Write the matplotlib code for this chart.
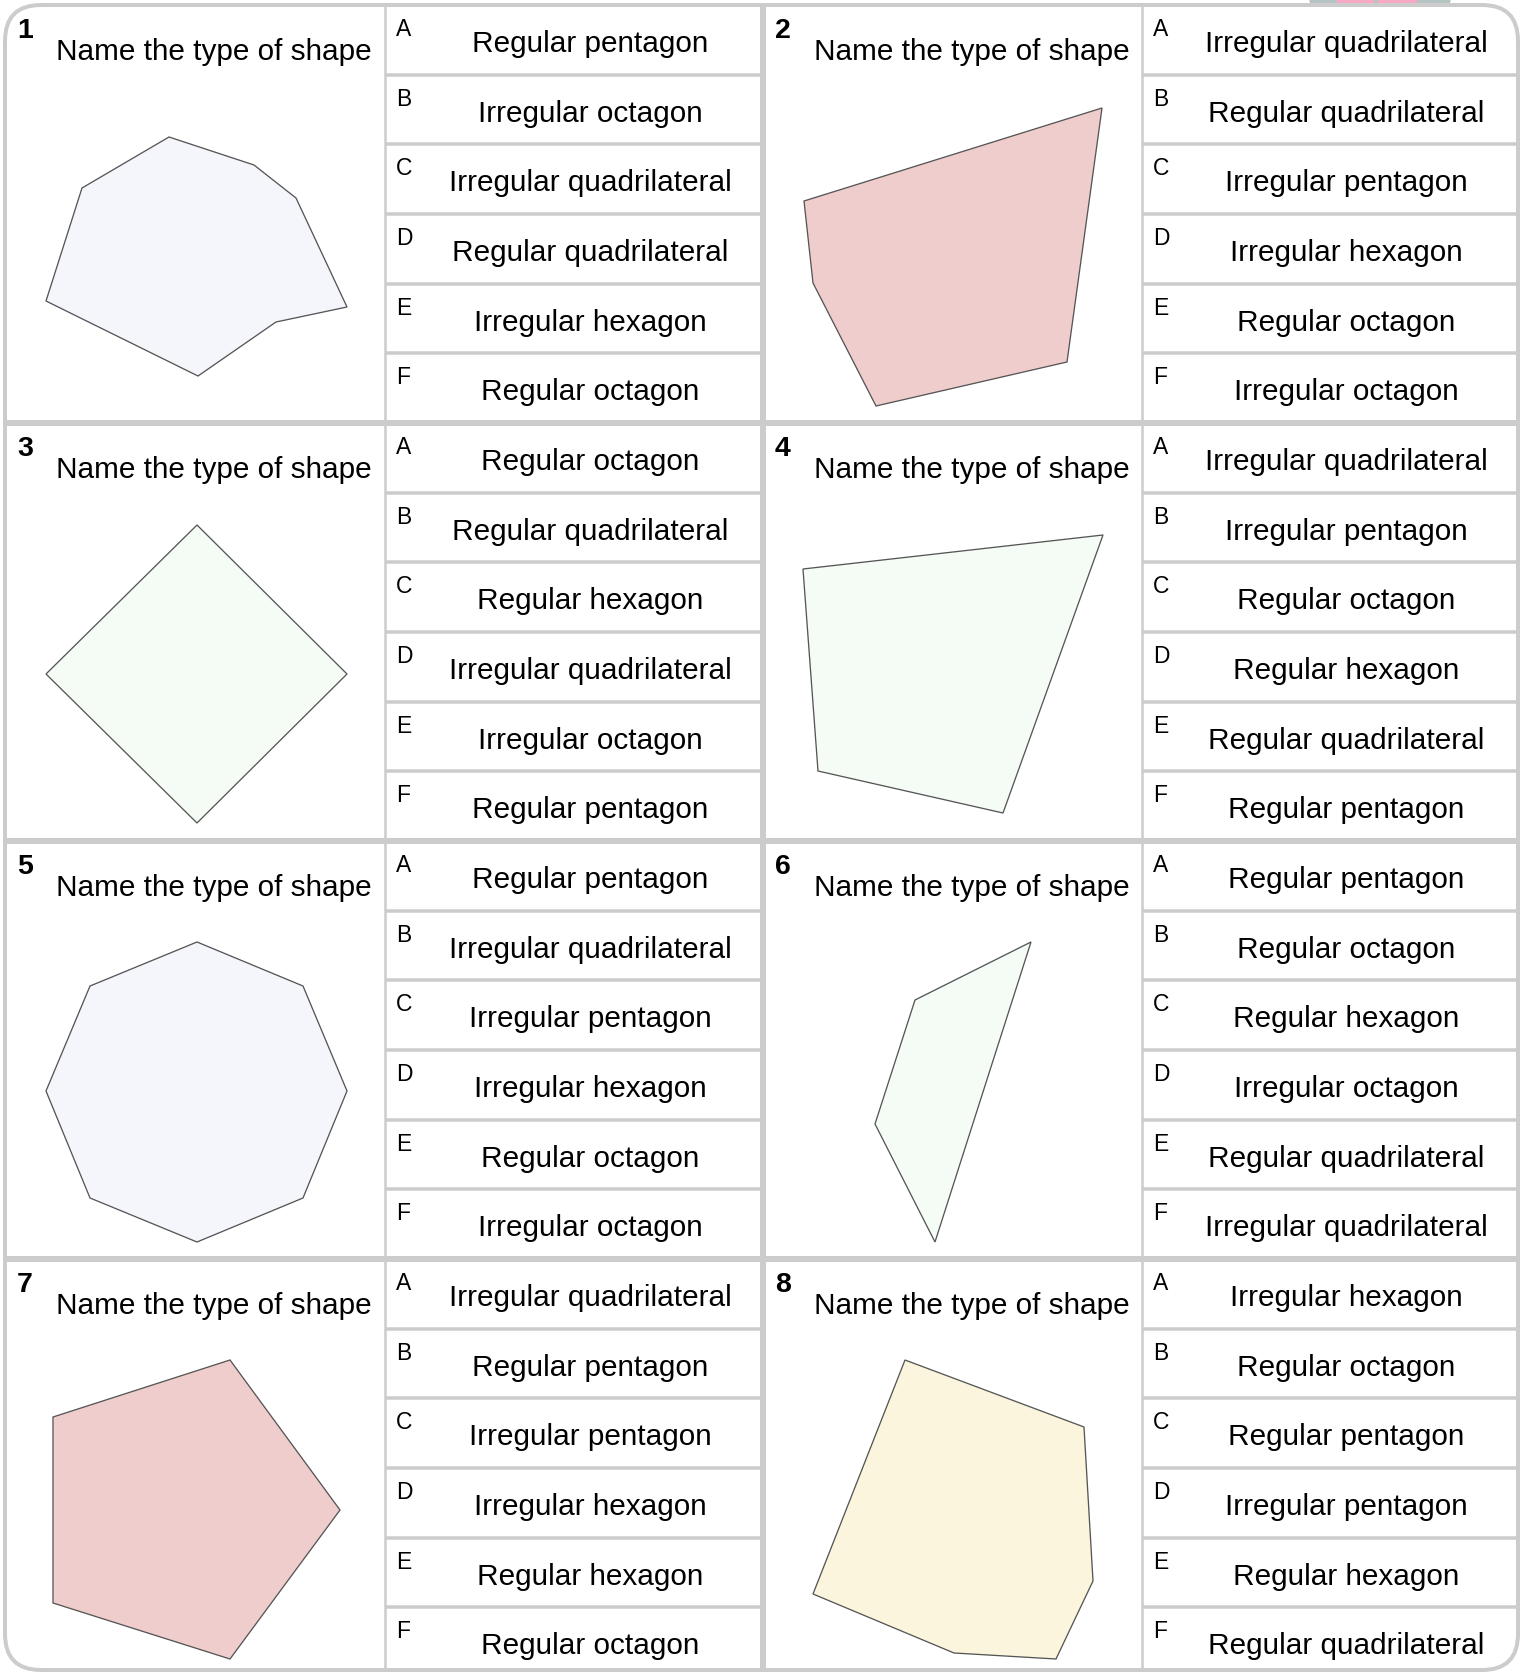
import matplotlib
matplotlib.use("Agg")
import matplotlib.pyplot as plt
from matplotlib.patches import Polygon, FancyBboxPatch, Ellipse, Rectangle

plt.rcParams["font.family"] = ["Liberation Sans", "DejaVu Sans"]

W, H = 1529, 1674
DPI = 100

# ---- worksheet content ----
PROMPT = "Name the type of shape"
LETTERS = ["A", "B", "C", "D", "E", "F"]

options_q1 = ["Regular pentagon", "Irregular octagon", "Irregular quadrilateral",
              "Regular quadrilateral", "Irregular hexagon", "Regular octagon"]
options_q2 = ["Irregular quadrilateral", "Regular quadrilateral", "Irregular pentagon",
              "Irregular hexagon", "Regular octagon", "Irregular octagon"]
options_q3 = ["Regular octagon", "Regular quadrilateral", "Regular hexagon",
              "Irregular quadrilateral", "Irregular octagon", "Regular pentagon"]
options_q4 = ["Irregular quadrilateral", "Irregular pentagon", "Regular octagon",
              "Regular hexagon", "Regular quadrilateral", "Regular pentagon"]
options_q5 = ["Regular pentagon", "Irregular quadrilateral", "Irregular pentagon",
              "Irregular hexagon", "Regular octagon", "Irregular octagon"]
options_q6 = ["Regular pentagon", "Regular octagon", "Regular hexagon",
              "Irregular octagon", "Regular quadrilateral", "Irregular quadrilateral"]
options_q7 = ["Irregular quadrilateral", "Regular pentagon", "Irregular pentagon",
              "Irregular hexagon", "Regular hexagon", "Regular octagon"]
options_q8 = ["Irregular hexagon", "Regular octagon", "Regular pentagon",
              "Irregular pentagon", "Regular hexagon", "Regular quadrilateral"]
OPTIONS = [options_q1, options_q2, options_q3, options_q4,
           options_q5, options_q6, options_q7, options_q8]

# shape vertices (page pixels, y down)
shape_q1 = [(169, 138), (254, 166), (296, 199), (347, 308), (276, 323),
            (198, 377), (46, 302), (82, 189)]
shape_q2 = [(804, 202), (1102, 109), (1067, 363), (876, 407), (813, 284)]
shape_q3 = [(197, 526), (347, 675), (197, 824), (46, 675)]
shape_q4 = [(803, 570), (1103, 536), (1003, 814), (818, 772)]
shape_q5 = [(197, 943), (303, 987), (347, 1092), (303, 1199), (197, 1243),
            (90, 1199), (46, 1092), (90, 987)]
shape_q6 = [(915, 1001), (1031, 943), (935, 1243), (875, 1125)]
shape_q7 = [(53, 1418), (230, 1361), (340, 1511), (230, 1660), (53, 1604)]
shape_q8 = [(905, 1361), (1084, 1428), (1093, 1582), (1056, 1660),
            (954, 1654), (813, 1595)]
SHAPES = [shape_q1, shape_q2, shape_q3, shape_q4,
          shape_q5, shape_q6, shape_q7, shape_q8]

LAVENDER = "#f5f5fc"
PINK = "#f0cdcd"
MINT = "#f5fcf5"
CREAM = "#faf5dc"
SHAPE_FILLS = [LAVENDER, PINK, MINT, MINT, LAVENDER, MINT, PINK, CREAM]

# ---- layout ----
LEFT, RIGHT, TOP, BOTTOM = 5, 1518, 6, 1671
MID_X = 763
BLOCK_H = 418
OPT_OFFSET = 380          # option column starts this far into each half
ROW_H = BLOCK_H / 6
GRID = "#cccccc"


def px(v):
    return v * 72.0 / DPI


fig = plt.figure(figsize=(W / DPI, H / DPI), dpi=DPI)
ax = fig.add_axes([0, 0, 1, 1])
ax.set_xlim(0, W)
ax.set_ylim(H, 0)
ax.axis("off")

# little decoration peeking over the top edge
ax.add_patch(Ellipse((1380, 2), 140, 18, color="#b5c4c2", zorder=0))
ax.add_patch(Rectangle((1337, 0), 36, 7, color="#f7a8c4", zorder=0.5))
ax.add_patch(Rectangle((1378, 0), 38, 7, color="#f7a8c4", zorder=0.5))

# outer rounded frame
frame = FancyBboxPatch((LEFT, TOP), RIGHT - LEFT, BOTTOM - TOP,
                       boxstyle="round,pad=0,rounding_size=36",
                       facecolor="white", edgecolor=GRID, lw=px(4), zorder=1)
ax.add_patch(frame)

halves = [(LEFT, MID_X), (MID_X, RIGHT)]

for q in range(8):
    brow, bcol = divmod(q, 2)
    x0, x1 = halves[bcol]
    y0 = TOP + brow * BLOCK_H
    xo = x0 + OPT_OFFSET if bcol == 0 else x0 + 379

    # number + prompt
    ax.text(x0 + 12, y0 + 12, str(q + 1), fontsize=20.5, fontweight="bold",
            ha="left", va="top", zorder=5)
    ax.text((x0 + xo) / 2 + 19, y0 + 54, PROMPT, fontsize=21.4,
            ha="center", va="baseline", zorder=5)

    # shape
    ax.add_patch(Polygon(SHAPES[q], closed=True, facecolor=SHAPE_FILLS[q],
                         edgecolor="#555555", lw=px(1.3), zorder=3))

    # option column
    ax.plot([xo, xo], [y0, min(y0 + BLOCK_H, BOTTOM)], color=GRID,
            lw=px(2.5), zorder=4, solid_capstyle="butt")
    for i, (letter, label) in enumerate(zip(LETTERS, OPTIONS[q])):
        ry = y0 + i * ROW_H
        if i > 0:
            ax.plot([xo, x1], [ry, ry], color=GRID, lw=px(3.5), zorder=4,
                    solid_capstyle="butt")
        ax.text(xo + 11, ry + 12, letter, fontsize=16.5, ha="left", va="top",
                zorder=5)
        ax.text((xo + x1) / 2 + 16, ry + 46, label, fontsize=21.4,
                ha="center", va="baseline", zorder=5)

# block separators
for k in range(1, 4):
    y = TOP + k * BLOCK_H
    ax.plot([LEFT, RIGHT], [y, y], color=GRID, lw=px(6), zorder=4,
            solid_capstyle="butt")
ax.plot([MID_X, MID_X], [TOP, BOTTOM], color=GRID, lw=px(6), zorder=4,
        solid_capstyle="butt")

fig.savefig("out.png", dpi=DPI, facecolor="white")
